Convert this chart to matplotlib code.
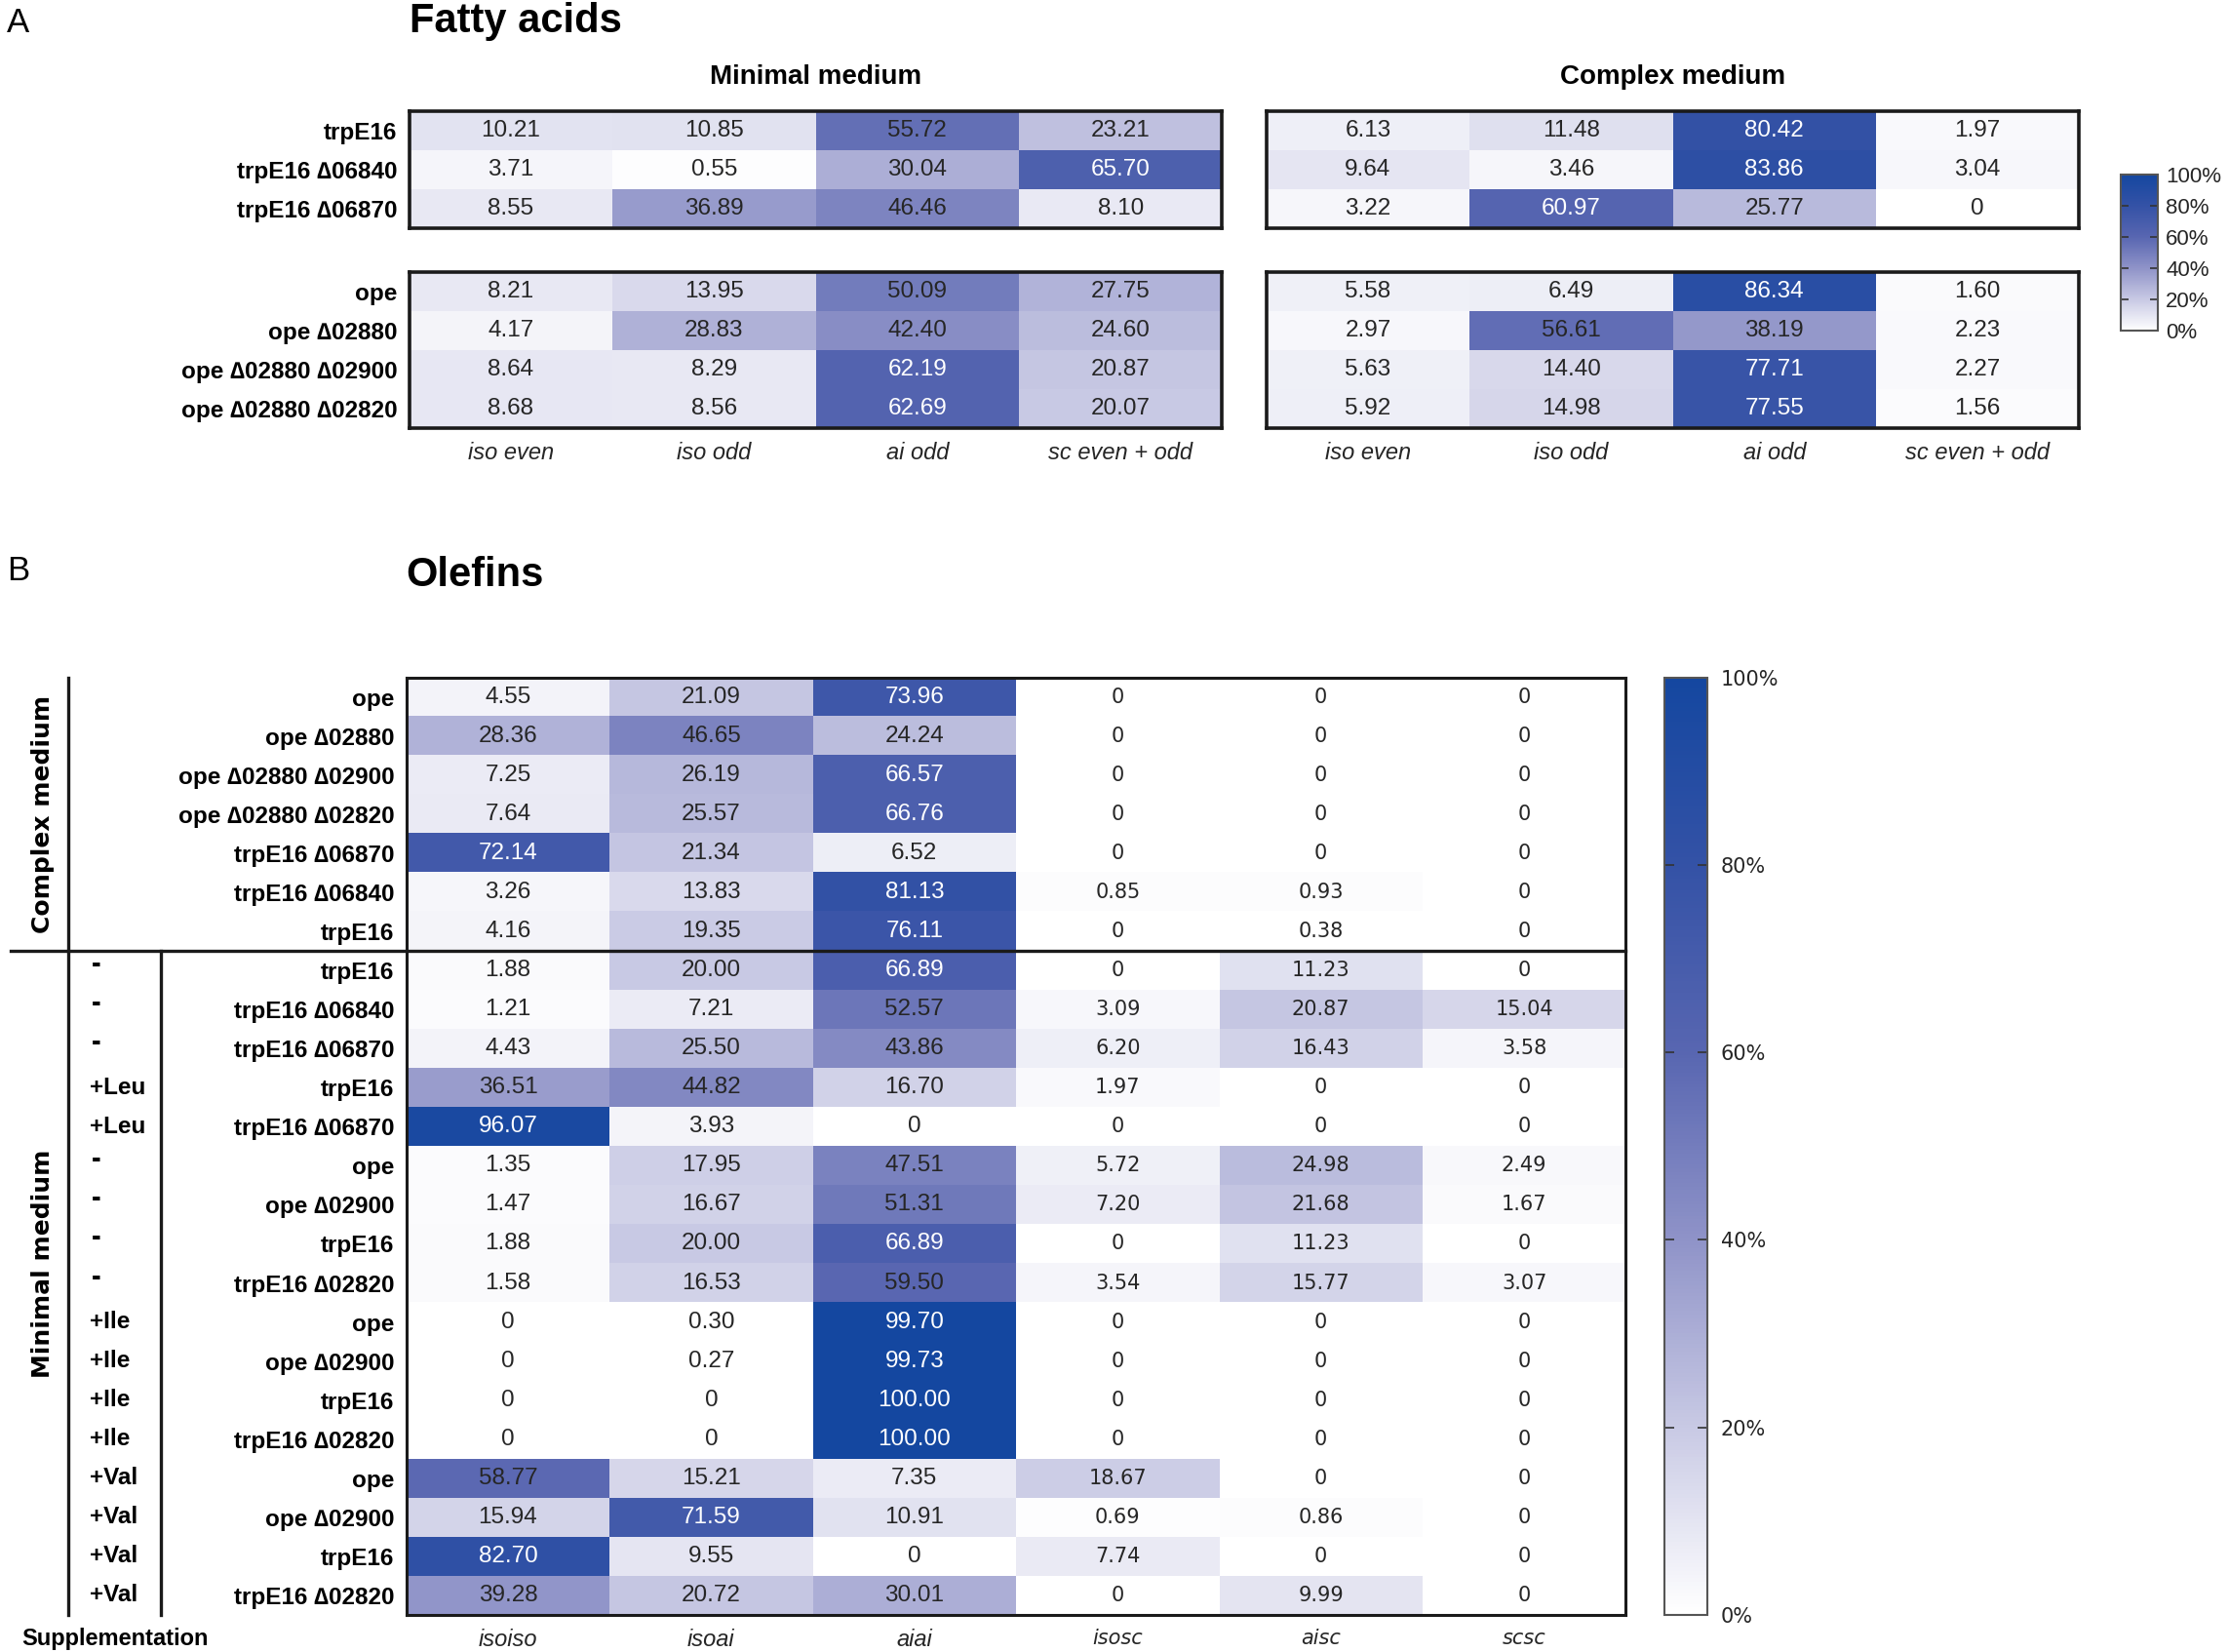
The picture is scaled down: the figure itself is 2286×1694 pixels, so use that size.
import numpy as np
import matplotlib
matplotlib.use("Agg")
import matplotlib.pyplot as plt
from matplotlib.colors import LinearSegmentedColormap
from matplotlib import transforms

plt.rcParams['font.family'] = ['Liberation Sans', 'DejaVu Sans']

# ---- data: fatty acids (%)
fa_cols = ["iso even", "iso odd", "ai odd", "sc even + odd"]
fa_trp_rows = ["trpE16", "trpE16 \u220606840", "trpE16 \u220606870"]
fa_ope_rows = ["ope", "ope \u220602880", "ope \u220602880 \u220602900", "ope \u220602880 \u220602820"]
fa_min_trp = [[10.21, 10.85, 55.72, 23.21],
              [3.71, 0.55, 30.04, 65.70],
              [8.55, 36.89, 46.46, 8.10]]
fa_min_ope = [[8.21, 13.95, 50.09, 27.75],
              [4.17, 28.83, 42.40, 24.60],
              [8.64, 8.29, 62.19, 20.87],
              [8.68, 8.56, 62.69, 20.07]]
fa_cpx_trp = [[6.13, 11.48, 80.42, 1.97],
              [9.64, 3.46, 83.86, 3.04],
              [3.22, 60.97, 25.77, 0]]
fa_cpx_ope = [[5.58, 6.49, 86.34, 1.60],
              [2.97, 56.61, 38.19, 2.23],
              [5.63, 14.40, 77.71, 2.27],
              [5.92, 14.98, 77.55, 1.56]]

# ---- data: olefins (%)
ol_cols = ["isoiso", "isoai", "aiai", "isosc", "aisc", "scsc"]
ol_strains = ["ope", "ope \u220602880", "ope \u220602880 \u220602900", "ope \u220602880 \u220602820",
              "trpE16 \u220606870", "trpE16 \u220606840", "trpE16",
              "trpE16", "trpE16 \u220606840", "trpE16 \u220606870", "trpE16", "trpE16 \u220606870",
              "ope", "ope \u220602900", "trpE16", "trpE16 \u220602820",
              "ope", "ope \u220602900", "trpE16", "trpE16 \u220602820",
              "ope", "ope \u220602900", "trpE16", "trpE16 \u220602820"]
ol_supp = ["-", "-", "-", "+Leu", "+Leu", "-", "-", "-", "-",
           "+Ile", "+Ile", "+Ile", "+Ile", "+Val", "+Val", "+Val", "+Val"]
n_complex = 7
ol_vals = [[4.55, 21.09, 73.96, 0, 0, 0],
           [28.36, 46.65, 24.24, 0, 0, 0],
           [7.25, 26.19, 66.57, 0, 0, 0],
           [7.64, 25.57, 66.76, 0, 0, 0],
           [72.14, 21.34, 6.52, 0, 0, 0],
           [3.26, 13.83, 81.13, 0.85, 0.93, 0],
           [4.16, 19.35, 76.11, 0, 0.38, 0],
           [1.88, 20.00, 66.89, 0, 11.23, 0],
           [1.21, 7.21, 52.57, 3.09, 20.87, 15.04],
           [4.43, 25.50, 43.86, 6.20, 16.43, 3.58],
           [36.51, 44.82, 16.70, 1.97, 0, 0],
           [96.07, 3.93, 0, 0, 0, 0],
           [1.35, 17.95, 47.51, 5.72, 24.98, 2.49],
           [1.47, 16.67, 51.31, 7.20, 21.68, 1.67],
           [1.88, 20.00, 66.89, 0, 11.23, 0],
           [1.58, 16.53, 59.50, 3.54, 15.77, 3.07],
           [0, 0.30, 99.70, 0, 0, 0],
           [0, 0.27, 99.73, 0, 0, 0],
           [0, 0, 100.00, 0, 0, 0],
           [0, 0, 100.00, 0, 0, 0],
           [58.77, 15.21, 7.35, 18.67, 0, 0],
           [15.94, 71.59, 10.91, 0.69, 0.86, 0],
           [82.70, 9.55, 0, 7.74, 0, 0],
           [39.28, 20.72, 30.01, 0, 9.99, 0]]

cmap = LinearSegmentedColormap.from_list(
    "wb", [(0, "#ffffff"), (0.2, "#c8c9e4"), (0.4, "#8f93c8"),
           (0.6, "#5866b1"), (0.8, "#3452a6"), (1.0, "#1447a0")])

DARK = "#262626"
ARIAL = ['Liberation Sans', 'DejaVu Sans']
WIDE = ['DejaVu Sans']


def fmt(v):
    return "0" if v == 0 else f"{v:.2f}"


def heat(ax, vals, rows=None, cols=None, wide_from=None, lw=2.6):
    vals = np.array(vals, dtype=float)
    im = ax.imshow(vals, cmap=cmap, vmin=0, vmax=100, aspect="auto", interpolation="nearest")
    for i in range(vals.shape[0]):
        for j in range(vals.shape[1]):
            v = vals[i, j]
            wide = wide_from is not None and j >= wide_from
            ax.text(j, i, fmt(v), ha="center", va="center",
                    color="white" if v >= 60 else DARK,
                    family=WIDE if wide else ARIAL, fontsize=15 if wide else 17.5)
    ax.tick_params(length=0)
    if rows is not None:
        ax.set_yticks(range(len(rows)))
        ax.set_yticklabels(rows, fontsize=17.5, fontweight="bold")
        ax.tick_params(axis="y", pad=9)
    else:
        ax.set_yticks([])
    if cols is not None:
        ax.set_xticks(range(len(cols)))
        ax.set_xticklabels(cols, fontsize=17, style="italic", color=DARK)
        ax.tick_params(axis="x", pad=10)
        if wide_from is not None:
            for k, t in enumerate(ax.get_xticklabels()):
                if k >= wide_from:
                    t.set_family(WIDE)
                    t.set_fontsize(15)
    else:
        ax.set_xticks([])
    for s in ax.spines.values():
        s.set_linewidth(lw)
        s.set_color("#1a1a1a")
    return im


fig = plt.figure(figsize=(22.86, 16.94), dpi=100)

# ---- panel A
L1, R1 = 0.1836, 0.5483
L2, R2 = 0.5681, 0.9328
t1, b1 = 0.9326, 0.8618
t2, b2 = 0.8351, 0.7409
ax1 = fig.add_axes([L1, b1, R1 - L1, t1 - b1])
ax2 = fig.add_axes([L1, b2, R1 - L1, t2 - b2])
ax3 = fig.add_axes([L2, b1, R2 - L2, t1 - b1])
ax4 = fig.add_axes([L2, b2, R2 - L2, t2 - b2])
imA = heat(ax1, fa_min_trp, rows=fa_trp_rows)
heat(ax2, fa_min_ope, rows=fa_ope_rows, cols=fa_cols)
heat(ax3, fa_cpx_trp)
heat(ax4, fa_cpx_ope, cols=fa_cols)

fig.text(0.003, 0.986, "A", fontsize=25, va="center", ha="left")
fig.text(L1, 0.987, "Fatty acids", fontsize=30, fontweight="bold", va="center", ha="left")
fig.text((L1 + R1) / 2, 0.9534, "Minimal medium", fontsize=20, fontweight="bold", ha="center", va="center")
fig.text((L2 + R2) / 2, 0.9534, "Complex medium", fontsize=20, fontweight="bold", ha="center", va="center")

caxA = fig.add_axes([0.9514, 0.7997, 0.0166, 0.0949])
cbA = fig.colorbar(imA, cax=caxA, ticks=[0, 20, 40, 60, 80, 100])
cbA.ax.set_yticklabels([f"{t}%" for t in [0, 20, 40, 60, 80, 100]], fontsize=16, color=DARK)
cbA.ax.tick_params(direction="in", left=True, right=True, length=6, width=1.2, color="#333333", pad=6)
cbA.outline.set_linewidth(1.5)
cbA.outline.set_edgecolor("#555555")

# ---- panel B
BL, BB, BW, BH = 0.1823, 0.0225, 0.5471, 0.5673
axB = fig.add_axes([BL, BB, BW, BH])
imB = heat(axB, ol_vals, rows=ol_strains, cols=ol_cols, wide_from=3, lw=2.2)
fig.text(0.003, 0.6546, "B", fontsize=25, va="center", ha="left")
fig.text(BL, 0.652, "Olefins", fontsize=30, fontweight="bold", va="center", ha="left")

# group separators
ys = axB.get_ylim()  # (bottom, top) in data coords
split = n_complex - 0.5
mix = transforms.blended_transform_factory(fig.transFigure, axB.transData)
axB.plot([0.005, BL + BW], [split, split], transform=mix, color="#1a1a1a", lw=2.4, clip_on=False)
axB.plot([0.0307, 0.0307], [ys[1], ys[0]], transform=mix, color="#1a1a1a", lw=2.4, clip_on=False)
axB.plot([0.0723, 0.0723], [split, ys[0]], transform=mix, color="#1a1a1a", lw=2.4, clip_on=False)
for k, s in enumerate(ol_supp):
    dash = s == "-"
    axB.text(0.0410 if dash else 0.0403, n_complex + k - (0.15 if dash else 0), s, transform=mix,
             fontsize=21 if dash else 17.5, fontweight="bold", ha="left", va="center")
axB.text(0.0192, (ys[1] + split) / 2, "Complex medium", transform=mix, rotation=90,
         family=WIDE, fontsize=18, fontweight="bold", ha="center", va="center")
fig.text(0.0192, 0.2349, "Minimal medium", rotation=90,
         family=WIDE, fontsize=18, fontweight="bold", ha="center", va="center")
fig.text(0.0096, 0.0078, "Supplementation", fontsize=17, fontweight="bold", ha="left", va="center")

caxB = fig.add_axes([0.7466, BB, 0.0192, BH])
cbB = fig.colorbar(imB, cax=caxB, ticks=[0, 20, 40, 60, 80, 100])
cbB.ax.set_yticklabels([f"{t}%" for t in [0, 20, 40, 60, 80, 100]], fontsize=15,
                       family=WIDE, color=DARK)
cbB.ax.tick_params(direction="in", left=True, right=True, length=7, width=1.2, color="#333333", pad=10)
cbB.outline.set_linewidth(1.5)
cbB.outline.set_edgecolor("#555555")

fig.savefig("out.png", dpi=100)
